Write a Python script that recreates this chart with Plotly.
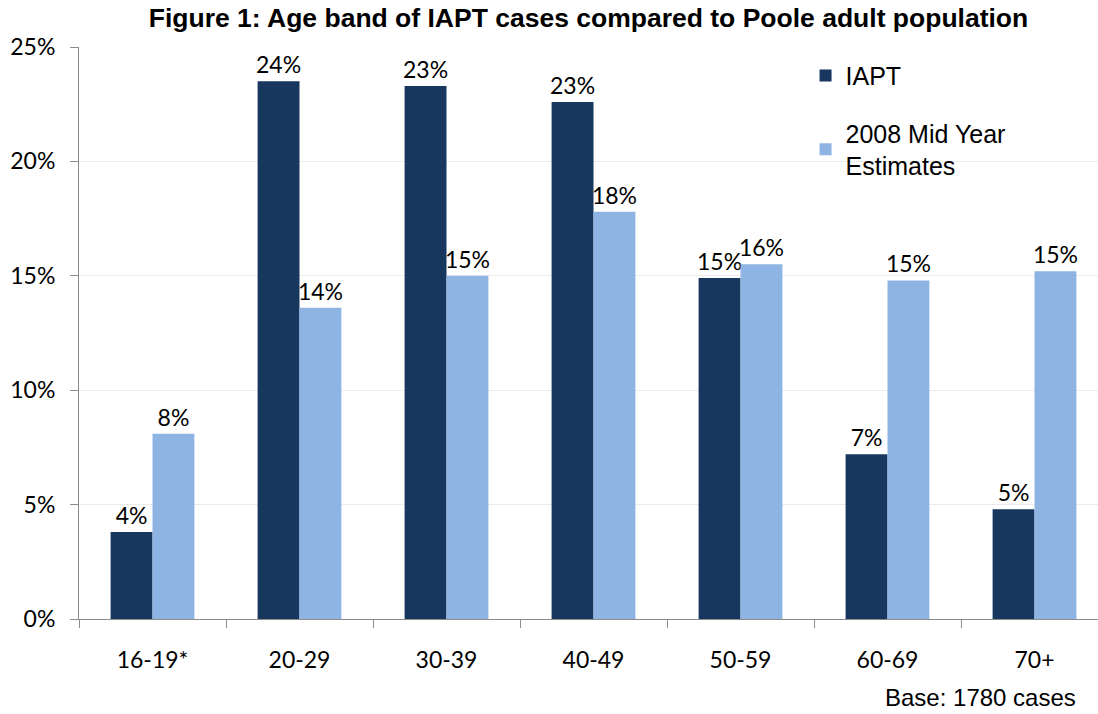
import plotly.graph_objects as go

age_bands = ["16-19*", "20-29", "30-39", "40-49", "50-59", "60-69", "70+"]
iapt = [3.8, 23.5, 23.3, 22.6, 14.9, 7.2, 4.8]
mid_year_2008 = [8.1, 13.6, 15.0, 17.8, 15.5, 14.8, 15.2]
y_ticks = [0, 5, 10, 15, 20, 25]
y_tick_labels = ["0%", "5%", "10%", "15%", "20%", "25%"]

DARK = "#17375E"
LIGHT = "#8EB4E3"
LABEL_FONT = dict(family="Lato, Open Sans, sans-serif", size=23, color="#000000")
ARIAL = "Liberation Sans, Arial, sans-serif"

fig = go.Figure()
fig.add_trace(go.Bar(
    x=age_bands, y=iapt, name="IAPT", legendgroup="a",
    marker=dict(color=DARK, line=dict(width=0)),
    texttemplate="%{y:.0f}%", textposition="outside", constraintext="none",
    textfont=LABEL_FONT, cliponaxis=False,
))
fig.add_trace(go.Bar(
    x=age_bands, y=mid_year_2008, name="2008 Mid Year<br>Estimates", legendgroup="b",
    marker=dict(color=LIGHT, line=dict(width=0)),
    texttemplate="%{y:.0f}%", textposition="outside", constraintext="none",
    textfont=LABEL_FONT, cliponaxis=False,
))

fig.update_layout(
    width=1098, height=714,
    margin=dict(l=79, r=0, t=47, b=95),
    paper_bgcolor="white", plot_bgcolor="white",
    barmode="group", bargap=0.43, bargroupgap=0,
    title=dict(
        text="<b>Figure 1: Age band of IAPT cases compared to Poole adult population</b>",
        font=dict(family=ARIAL, size=26.5, color="#000000"),
        x=0.5, xref="paper", xanchor="center", y=0.975, yanchor="middle",
    ),
    legend=dict(
        x=0.713, y=0.99, xanchor="left", yanchor="top",
        font=dict(family=ARIAL, size=25, color="#000000"),
        bgcolor="rgba(0,0,0,0)", tracegroupgap=22,
        traceorder="grouped",
    ),
    showlegend=True,
)

fig.update_xaxes(
    range=[-0.5, 6.432],
    showline=True, linecolor="#8C8C8C", linewidth=1,
    ticks="outside", tickson="boundaries", ticklen=8, tickcolor="#8C8C8C",
    tickfont=LABEL_FONT, showgrid=False, ticklabelstandoff=20,
)
fig.update_yaxes(
    range=[0, 25], tickvals=y_ticks, ticktext=y_tick_labels,
    showline=True, linecolor="#8C8C8C", linewidth=1,
    ticks="outside", ticklen=8, tickcolor="#8C8C8C",
    tickfont=LABEL_FONT, showgrid=True, gridcolor="#EBEBEB", gridwidth=1,
    zeroline=False, ticklabelstandoff=10,
)

fig.add_annotation(
    text="Base: 1780 cases", xref="paper", yref="paper",
    x=0.98, y=-0.138, xanchor="right", yanchor="middle", showarrow=False,
    font=dict(family=ARIAL, size=24, color="#000000"),
)

fig.write_html("out.html")
